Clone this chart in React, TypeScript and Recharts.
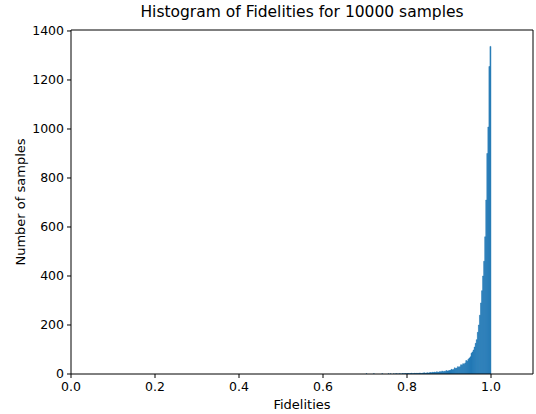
import React from "react";
import { BarChart, Bar, XAxis, YAxis, ReferenceLine } from "recharts";

const BIN_START = 0.7;
const BIN_WIDTH = 0.0025;

const counts: number[] = [
  0, 1, 0, 0, 0, 0, 0, 0, 1, 0, 0, 0, 0, 0, 0, 0, 1, 0, 0, 0,
  0, 0, 1, 0, 1, 0, 0, 1, 0, 1,
  1, 0, 1, 1, 0, 2, 1, 1, 2, 1,
  2, 2, 1, 2, 3, 1, 2, 3, 2, 3,
  2, 3, 4, 2, 3, 4, 5, 3, 4, 5,
  4, 5, 6, 5, 7, 6, 8, 6, 9, 7,
  8, 10, 8, 12, 9, 11, 10, 14, 12, 13,
  14, 15, 19, 17, 18, 25, 22, 24, 30, 28, 30, 38, 36, 42, 40, 45, 55, 52, 60, 65,
  70, 85, 90, 98, 110, 125, 140, 170, 200, 240, 290, 340, 400, 460, 560, 710, 900, 1008, 1255, 1337,
];

const xTicks = [0, 0.2, 0.4, 0.6, 0.8, 1.0];
const yTicks = [0, 200, 400, 600, 800, 1000, 1200, 1400];
const X_MAX = 1.1;
const Y_MAX = 1404;

const title = "Histogram of Fidelities for 10000 samples";
const xLabel = "Fidelities";
const yLabel = "Number of samples";

const data = counts.map((c, i) => ({
  x: BIN_START + BIN_WIDTH * (i + 0.5),
  count: c,
}));

const FONT = "'DejaVu Sans', sans-serif";
const tickStyle = { fill: "#000", fontSize: 12.5, fontFamily: FONT };

export default function App() {
  return (
    <div style={{ position: "absolute", left: 0, top: 0, width: 536, height: 414, background: "#fff" }}>
      <BarChart
        width={536}
        height={414}
        data={data}
        margin={{ top: 30, right: 3, bottom: 0, left: 0 }}
        barCategoryGap={0}
        barGap={0}
      >
        <XAxis
          type="number"
          dataKey="x"
          domain={[0, X_MAX]}
          ticks={xTicks}
          tickFormatter={(v: number) => v.toFixed(1)}
          tick={tickStyle}
          tickSize={4}
          tickMargin={4}
          tickLine={{ stroke: "#000" }}
          axisLine={{ stroke: "#000" }}
          height={40}
          allowDataOverflow
        />
        <YAxis
          type="number"
          domain={[0, Y_MAX]}
          ticks={yTicks}
          tick={tickStyle}
          tickSize={4}
          tickMargin={3}
          tickLine={{ stroke: "#000" }}
          axisLine={{ stroke: "#000" }}
          width={71}
          allowDataOverflow
        />
        <Bar
          dataKey="count"
          fill="#1f77b4"
          stroke="#1f77b4"
          strokeWidth={0.5}
          barSize={1.4}
          isAnimationActive={false}
        />
        <ReferenceLine y={Y_MAX} stroke="#000" ifOverflow="extendDomain" />
        <ReferenceLine x={X_MAX} stroke="#000" ifOverflow="extendDomain" />
      </BarChart>
      <div
        style={{
          position: "absolute",
          left: 71,
          width: 462,
          top: 3,
          textAlign: "center",
          fontFamily: FONT,
          fontSize: 15.5,
          color: "#000",
          whiteSpace: "nowrap",
        }}
      >
        {title}
      </div>
      <div
        style={{
          position: "absolute",
          left: 71,
          width: 462,
          top: 397,
          textAlign: "center",
          fontFamily: FONT,
          fontSize: 13,
          color: "#000",
        }}
      >
        {xLabel}
      </div>
      <div
        style={{
          position: "absolute",
          left: 20,
          top: 202,
          transform: "translate(-50%, -50%) rotate(-90deg)",
          whiteSpace: "nowrap",
          fontFamily: FONT,
          fontSize: 13,
          color: "#000",
        }}
      >
        {yLabel}
      </div>
    </div>
  );
}
